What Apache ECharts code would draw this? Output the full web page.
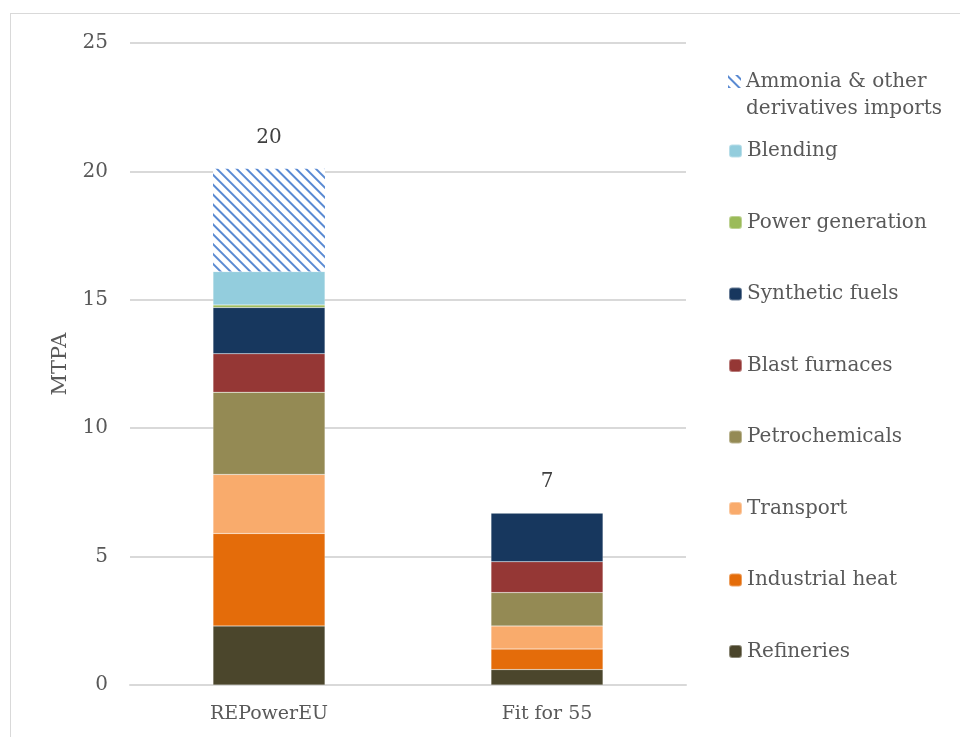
<!DOCTYPE html>
<html>
<head>
<meta charset="utf-8">
<script src="https://cdn.jsdelivr.net/npm/echarts@6/dist/echarts.min.js"></script>
<style>
html,body{margin:0;padding:0;background:#fff;}
#frame{position:absolute;left:10px;top:13px;width:960px;height:740px;border:1px solid #d9d9d9;box-sizing:border-box;}
#chart{position:absolute;left:0;top:0;width:960px;height:737px;}
</style>
</head>
<body>
<div id="frame"></div>
<div id="chart"></div>
<script>
var categories = ['REPowerEU', 'Fit for 55'];
var seriesNames = ['Refineries', 'Industrial heat', 'Transport', 'Petrochemicals', 'Blast furnaces', 'Synthetic fuels', 'Power generation', 'Blending', 'Ammonia & other derivatives imports'];
var refineries = [2.3, 0.6];
var industrialHeat = [3.6, 0.8];
var transport = [2.3, 0.9];
var petrochemicals = [3.2, 1.3];
var blastFurnaces = [1.5, 1.2];
var syntheticFuels = [1.8, 1.9];
var powerGeneration = [0.1, 0];
var blending = [1.3, 0];
var ammoniaImports = [4.0, 0];
var totals = [20, 7];
var yTicks = [0, 5, 10, 15, 20, 25];

var seriesValues = [refineries, industrialHeat, transport, petrochemicals, blastFurnaces, syntheticFuels, powerGeneration, blending, ammoniaImports];
var colors = ['#4b462c', '#e46c0a', '#f9ab6c', '#948a54', '#953735', '#17375e', '#9bbb59', '#93cddd', '#ffffff'];
var font = 'DejaVu Serif';
var textColor = '#595959';

var chart = echarts.init(document.getElementById('chart'), null, {renderer: 'canvas'});

var hatch = {
  symbol: 'rect',
  color: '#5a8ad2',
  dashArrayX: [1, 0],
  dashArrayY: [1.3, 4.3],
  rotation: Math.PI / 4
};

var series = seriesNames.map(function (name, i) {
  var s = {
    name: name,
    type: 'bar',
    stack: 'total',
    barWidth: 112,
    data: seriesValues[i],
    itemStyle: {color: colors[i], borderColor: 'rgba(255,255,255,0.35)', borderWidth: 0.5},
    emphasis: {disabled: true}
  };
  if (i === seriesNames.length - 1) {
    s.itemStyle = {color: '#ffffff', decal: hatch};
  }
  return s;
});

series.push({
  name: 'Total',
  type: 'bar',
  stack: 'total',
  barWidth: 112,
  data: totals.map(function () { return 0; }),
  itemStyle: {color: 'transparent'},
  label: {
    show: true,
    position: 'top',
    distance: 21,
    fontFamily: font,
    fontSize: 20,
    color: '#404040',
    formatter: function (p) { return totals[p.dataIndex]; }
  },
  emphasis: {disabled: true}
});

var legendRest = seriesNames.slice(0, seriesNames.length - 1).reverse();

var option = {
  animation: false,
  textStyle: {fontFamily: font},
  grid: {left: 130, right: 274, top: 43, bottom: 52, containLabel: false},
  legend: [
    {
      data: ['Ammonia & other derivatives imports'],
      formatter: function () { return 'Ammonia & other\nderivatives imports'; },
      icon: 'path://M0,0L13,0L13,13L0,13Z M0,40L0.01,40L0.01,40.01Z',
      orient: 'vertical',
      left: 728,
      top: 68,
      padding: 0,
      itemWidth: 13,
      itemHeight: 40,
      selectedMode: false,
      textStyle: {fontFamily: font, fontSize: 20, color: textColor, lineHeight: 27}
    },
    {
      data: legendRest,
      orient: 'vertical',
      left: 728,
      top: 137.5,
      padding: 0,
      itemGap: 44.5,
      itemWidth: 13,
      itemHeight: 13,
      selectedMode: false,
      textStyle: {fontFamily: font, fontSize: 20, color: textColor, lineHeight: 27}
    }
  ],
  xAxis: {
    type: 'category',
    data: categories,
    axisTick: {show: false},
    axisLine: {lineStyle: {color: '#d9d9d9', width: 2}},
    axisLabel: {fontFamily: font, fontSize: 19, color: textColor, margin: 20}
  },
  yAxis: {
    type: 'value',
    min: yTicks[0],
    max: yTicks[yTicks.length - 1],
    interval: 5,
    name: 'MTPA',
    nameLocation: 'middle',
    nameGap: 59,
    nameRotate: 90,
    nameTextStyle: {fontFamily: font, fontSize: 21, color: textColor},
    axisLine: {show: false},
    axisTick: {show: false},
    splitLine: {lineStyle: {color: '#d9d9d9', width: 2}},
    axisLabel: {fontFamily: font, fontSize: 20, color: textColor, margin: 22}
  },
  series: series
};
chart.setOption(option);
</script>
</body>
</html>
